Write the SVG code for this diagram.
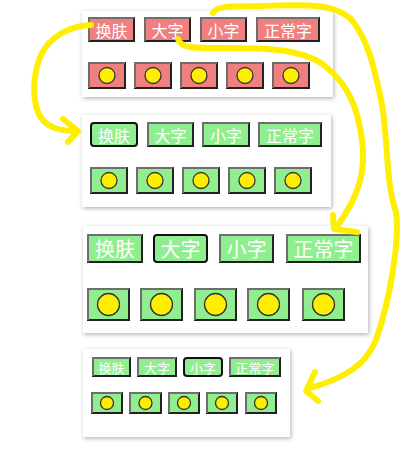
<svg xmlns="http://www.w3.org/2000/svg" width="410" height="458" viewBox="0 0 410 458">
<defs>
<filter id="sh" x="-10%" y="-10%" width="120%" height="125%">
<feDropShadow dx="1" dy="1.5" stdDeviation="2" flood-color="#000" flood-opacity="0.3"/>
</filter>
</defs>
<style>
.panel{fill:#fff;filter:url(#sh)}
.red{fill:#f08080}
.green{fill:#90ee90}
.dk{fill:none;stroke:#222;stroke-width:2}
.lt{fill:none;stroke:#6e6e6e;stroke-width:2}
.sel{fill:#90ee90;stroke:#111;stroke-width:2}
.dot{fill:#ffee00;stroke:#333;stroke-width:1.3}
.t{fill:#fff;font-family:"Noto Sans CJK SC","Noto Sans",sans-serif;text-anchor:middle;dominant-baseline:central}
.y{fill:none;stroke:#ffee00;stroke-width:6;stroke-linecap:round;stroke-linejoin:round}
</style>
<rect width="410" height="458" fill="#fff"/>

<g id="panel1">
<rect class="panel" x="82" y="11" width="251" height="86"/>
<g id="p1-btn1"><rect class="red" x="88" y="17" width="47" height="25"/><rect class="dk" x="89" y="18" width="45" height="23"/><path class="lt" d="M89 41V18H134"/><text class="t" x="111.5" y="29.5" font-size="16">换肤</text></g>
<g id="p1-btn2"><rect class="red" x="144" y="17" width="47" height="25"/><rect class="dk" x="145" y="18" width="45" height="23"/><path class="lt" d="M145 41V18H190"/><text class="t" x="167.5" y="29.5" font-size="16">大字</text></g>
<g id="p1-btn3"><rect class="red" x="200" y="17" width="47" height="25"/><rect class="dk" x="201" y="18" width="45" height="23"/><path class="lt" d="M201 41V18H246"/><text class="t" x="223.5" y="29.5" font-size="16">小字</text></g>
<g id="p1-btn4"><rect class="red" x="256" y="17" width="64" height="25"/><rect class="dk" x="257" y="18" width="62" height="23"/><path class="lt" d="M257 41V18H319"/><text class="t" x="288" y="29.5" font-size="16">正常字</text></g>
<g id="p1-dots">
<rect class="red" x="88" y="62" width="38" height="27"/><rect class="dk" x="89" y="63" width="36" height="25"/><path class="lt" d="M89 88V63H125"/><circle class="dot" cx="107" cy="75.5" r="8"/>
<rect class="red" x="134" y="62" width="38" height="27"/><rect class="dk" x="135" y="63" width="36" height="25"/><path class="lt" d="M135 88V63H171"/><circle class="dot" cx="153" cy="75.5" r="8"/>
<rect class="red" x="180" y="62" width="38" height="27"/><rect class="dk" x="181" y="63" width="36" height="25"/><path class="lt" d="M181 88V63H217"/><circle class="dot" cx="199" cy="75.5" r="8"/>
<rect class="red" x="226" y="62" width="38" height="27"/><rect class="dk" x="227" y="63" width="36" height="25"/><path class="lt" d="M227 88V63H263"/><circle class="dot" cx="245" cy="75.5" r="8"/>
<rect class="red" x="272" y="62" width="38" height="27"/><rect class="dk" x="273" y="63" width="36" height="25"/><path class="lt" d="M273 88V63H309"/><circle class="dot" cx="291" cy="75.5" r="8"/>
</g>
</g>

<g id="panel2">
<rect class="panel" x="82" y="115" width="249" height="92"/>
<g id="p2-btn1"><rect class="sel" x="91" y="123" width="46" height="23" rx="3"/><text class="t" x="114" y="134.5" font-size="16">换肤</text></g>
<g id="p2-btn2"><rect class="green" x="147" y="122" width="47" height="25"/><rect class="dk" x="148" y="123" width="45" height="23"/><path class="lt" d="M148 146V123H193"/><text class="t" x="170.5" y="134.5" font-size="16">大字</text></g>
<g id="p2-btn3"><rect class="green" x="202" y="122" width="48" height="25"/><rect class="dk" x="203" y="123" width="46" height="23"/><path class="lt" d="M203 146V123H249"/><text class="t" x="226" y="134.5" font-size="16">小字</text></g>
<g id="p2-btn4"><rect class="green" x="258" y="122" width="64" height="25"/><rect class="dk" x="259" y="123" width="62" height="23"/><path class="lt" d="M259 146V123H321"/><text class="t" x="290" y="134.5" font-size="16">正常字</text></g>
<g id="p2-dots">
<rect class="green" x="90" y="167" width="38" height="27"/><rect class="dk" x="91" y="168" width="36" height="25"/><path class="lt" d="M91 193V168H127"/><circle class="dot" cx="109" cy="180.5" r="8"/>
<rect class="green" x="136" y="167" width="38" height="27"/><rect class="dk" x="137" y="168" width="36" height="25"/><path class="lt" d="M137 193V168H173"/><circle class="dot" cx="155" cy="180.5" r="8"/>
<rect class="green" x="182" y="167" width="38" height="27"/><rect class="dk" x="183" y="168" width="36" height="25"/><path class="lt" d="M183 193V168H219"/><circle class="dot" cx="201" cy="180.5" r="8"/>
<rect class="green" x="228" y="167" width="38" height="27"/><rect class="dk" x="229" y="168" width="36" height="25"/><path class="lt" d="M229 193V168H265"/><circle class="dot" cx="247" cy="180.5" r="8"/>
<rect class="green" x="274" y="167" width="38" height="27"/><rect class="dk" x="275" y="168" width="36" height="25"/><path class="lt" d="M275 193V168H311"/><circle class="dot" cx="293" cy="180.5" r="8"/>
</g>
</g>

<g id="panel3">
<rect class="panel" x="83" y="226" width="285" height="107"/>
<g id="p3-btn1"><rect class="green" x="87" y="234" width="56" height="29"/><rect class="dk" x="88" y="235" width="54" height="27"/><path class="lt" d="M88 262V235H142"/><text class="t" x="115" y="248.5" font-size="20">换肤</text></g>
<g id="p3-btn2"><rect class="sel" x="154" y="235" width="53" height="27" rx="3"/><text class="t" x="180.5" y="248.5" font-size="20">大字</text></g>
<g id="p3-btn3"><rect class="green" x="219" y="234" width="55" height="29"/><rect class="dk" x="220" y="235" width="53" height="27"/><path class="lt" d="M220 262V235H273"/><text class="t" x="246.5" y="248.5" font-size="20">小字</text></g>
<g id="p3-btn4"><rect class="green" x="286" y="234" width="75" height="29"/><rect class="dk" x="287" y="235" width="73" height="27"/><path class="lt" d="M287 262V235H360"/><text class="t" x="323.5" y="248.5" font-size="20">正常字</text></g>
<g id="p3-dots">
<rect class="green" x="87" y="288" width="43" height="33"/><rect class="dk" x="88" y="289" width="41" height="31"/><path class="lt" d="M88 320V289H129"/><circle class="dot" cx="108.5" cy="304.5" r="11"/>
<rect class="green" x="140" y="288" width="43" height="33"/><rect class="dk" x="141" y="289" width="41" height="31"/><path class="lt" d="M141 320V289H182"/><circle class="dot" cx="161.5" cy="304.5" r="11"/>
<rect class="green" x="194" y="288" width="43" height="33"/><rect class="dk" x="195" y="289" width="41" height="31"/><path class="lt" d="M195 320V289H236"/><circle class="dot" cx="215.5" cy="304.5" r="11"/>
<rect class="green" x="247" y="288" width="43" height="33"/><rect class="dk" x="248" y="289" width="41" height="31"/><path class="lt" d="M248 320V289H289"/><circle class="dot" cx="268.5" cy="304.5" r="11"/>
<rect class="green" x="302" y="288" width="43" height="33"/><rect class="dk" x="303" y="289" width="41" height="31"/><path class="lt" d="M303 320V289H344"/><circle class="dot" cx="323.5" cy="304.5" r="11"/>
</g>
</g>

<g id="panel4">
<rect class="panel" x="83" y="349" width="207" height="88"/>
<g id="p4-btn1"><rect class="green" x="92" y="357" width="39" height="20"/><rect class="dk" x="93" y="358" width="37" height="18"/><path class="lt" d="M93 376V358H130"/><text class="t" x="111.5" y="367" font-size="13">换肤</text></g>
<g id="p4-btn2"><rect class="green" x="137" y="357" width="40" height="20"/><rect class="dk" x="138" y="358" width="38" height="18"/><path class="lt" d="M138 376V358H176"/><text class="t" x="157" y="367" font-size="13">大字</text></g>
<g id="p4-btn3"><rect class="sel" x="184" y="358" width="38" height="18" rx="3"/><text class="t" x="203" y="367" font-size="13">小字</text></g>
<g id="p4-btn4"><rect class="green" x="229" y="357" width="52" height="20"/><rect class="dk" x="230" y="358" width="50" height="18"/><path class="lt" d="M230 376V358H280"/><text class="t" x="255" y="367" font-size="13">正常字</text></g>
<g id="p4-dots">
<rect class="green" x="91" y="392" width="32" height="22"/><rect class="dk" x="92" y="393" width="30" height="20"/><path class="lt" d="M92 413V393H122"/><circle class="dot" cx="107" cy="403" r="6.5"/>
<rect class="green" x="129" y="392" width="33" height="22"/><rect class="dk" x="130" y="393" width="31" height="20"/><path class="lt" d="M130 413V393H161"/><circle class="dot" cx="145.5" cy="403" r="6.5"/>
<rect class="green" x="168" y="392" width="32" height="22"/><rect class="dk" x="169" y="393" width="30" height="20"/><path class="lt" d="M169 413V393H199"/><circle class="dot" cx="184" cy="403" r="6.5"/>
<rect class="green" x="206" y="392" width="32" height="22"/><rect class="dk" x="207" y="393" width="30" height="20"/><path class="lt" d="M207 413V393H237"/><circle class="dot" cx="222" cy="403" r="6.5"/>
<rect class="green" x="245" y="392" width="32" height="22"/><rect class="dk" x="246" y="393" width="30" height="20"/><path class="lt" d="M246 413V393H276"/><circle class="dot" cx="261" cy="403" r="6.5"/>
</g>
</g>

<g id="connectors">
<path class="y" d="M91 25C70 26 50 36 41 55C32 75 33 100 38 112C44 127 58 131 76 131"/>
<path class="y" d="M63 119L78 131L68 142"/>
<path class="y" d="M178 39C181 47 190 48 210 48C250 48 300 46 325 66C350 86 358 110 362 140C366 170 360 195 336 228"/>
<path class="y" d="M333 215L334 229L357 232"/>
<path class="y" d="M213 13C216 6 230 6 260 6C300 5 330 2 350 18C368 38 375 70 382 105C388 140 386 185 396 212C400 240 390 300 376 340C366 365 345 378 310 388"/>
<path class="y" d="M315 372L306 391L318 401"/>
</g>
</svg>
